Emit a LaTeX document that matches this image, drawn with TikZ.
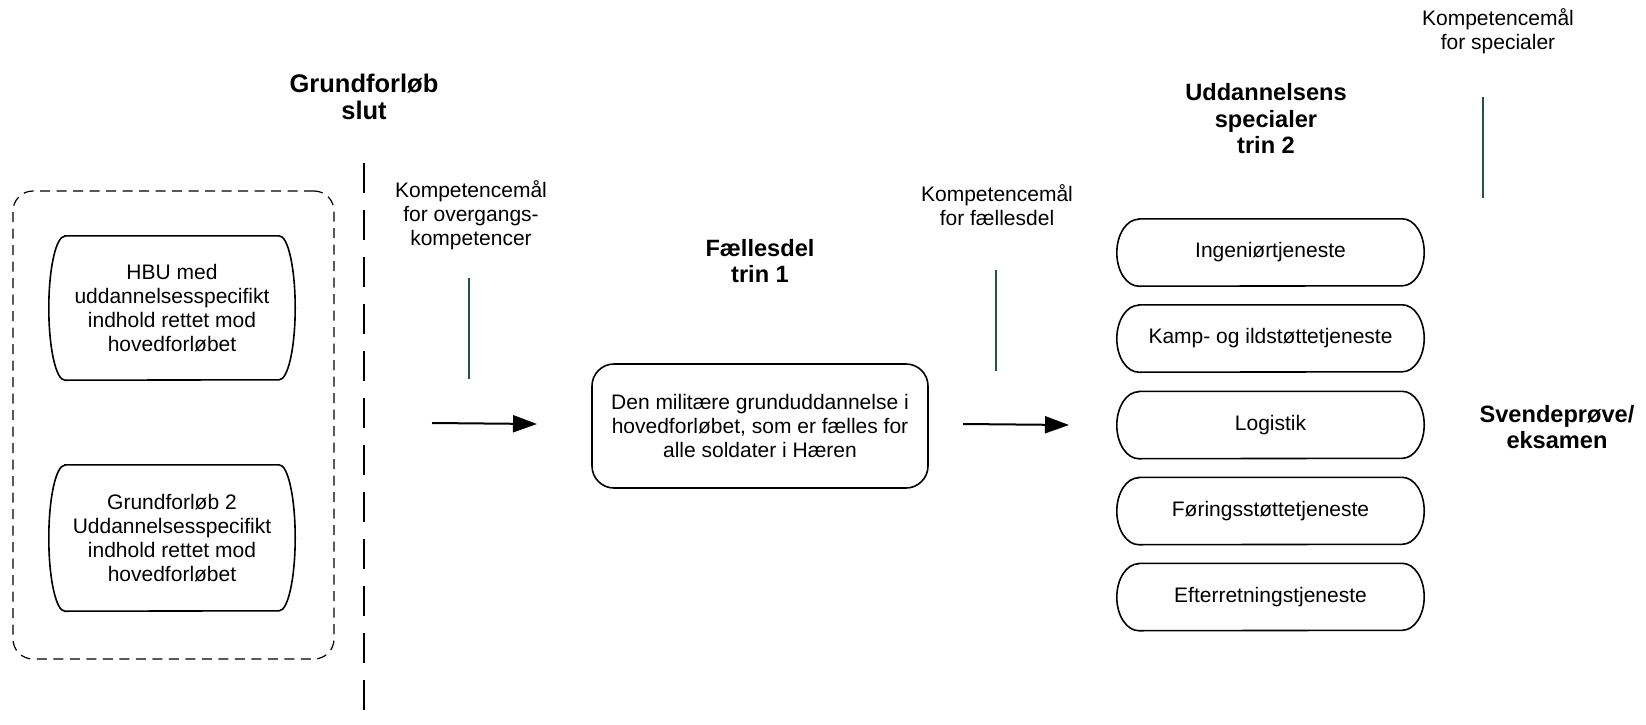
\documentclass[tikz,border=0pt]{standalone}
\usepackage{fontspec}
\setmainfont{Liberation Sans}
\usetikzlibrary{arrows.meta}
\definecolor{kgreen}{RGB}{31,90,58}
\tikzset{
  lbl/.style={align=center, inner sep=0pt, font=\fontsize{21pt}{24pt}\selectfont},
  ttl/.style={align=center, inner sep=0pt, font=\fontsize{23.6pt}{26.5pt}\selectfont\bfseries},
  boxtext/.style={align=center, inner sep=0pt, font=\fontsize{21pt}{24pt}\selectfont},
  boxline/.style={draw=black, line width=1.6pt},
  greenline/.style={draw=kgreen, line width=1.5pt},
  flow/.style={draw=black, line width=2pt, -{Triangle[length=24pt,width=17pt]}},
}
\newcommand\capnode[6]{%
  \node[boxtext, minimum width=#3, minimum height=#4] (#1) at (#2) {#6};
  \draw[boxline] ([xshift=#5]#1.north west) -- ([xshift=-#5]#1.north east)
    arc[start angle=90, end angle=-90, x radius=#5, y radius=#4/2]
    -- ([xshift=#5]#1.south west)
    arc[start angle=270, end angle=90, x radius=#5, y radius=#4/2] -- cycle;}
\begin{document}
\begin{tikzpicture}[x=1pt, y=-1pt]
\useasboundingbox (0,0) rectangle (1646,725);

% left group
\node[draw=black, line width=1.2pt, dash pattern=on 10pt off 6.5pt, rounded corners=20pt,
      minimum width=321pt, minimum height=468pt, inner sep=0pt] (grp) at (173.5,425) {};
\capnode{hbu}{172,308}{246pt}{144pt}{16pt}{HBU med\\uddannelsesspecifikt\\indhold rettet mod\\hovedforløbet}
\capnode{gf2}{172,538}{246pt}{146pt}{16pt}{Grundforløb 2\\Uddannelsesspecifikt\\indhold rettet mod\\hovedforløbet}

% Grundforløb slut
\node[ttl, font=\fontsize{25.5pt}{26.5pt}\selectfont\bfseries] (gslut) at (364,97) {Grundforløb\\slut};
\coordinate (d1) at (364,163);
\coordinate (d2) at (364,725);
\draw[black, line width=2pt, dash pattern=on 30pt off 17pt] (d1) -- (d2);

% first transition
\node[lbl] (kov) at (471,215) {Kompetencemål\\for overgangs-\\kompetencer};
\coordinate (g1a) at (469,278);
\coordinate (g1b) at (469,379);
\draw[greenline] (g1a) -- (g1b);
\coordinate (a1s) at (432,423);
\coordinate (a1e) at (537,424);
\draw[flow] (a1s) -- (a1e);

% Fællesdel
\node[ttl] (fd) at (760,261) {Fællesdel\\trin 1};
\node[boxtext, boxline, rounded corners=22pt, minimum width=336pt, minimum height=124pt] (main) at (760,426)
  {Den militære grunduddannelse i\\hovedforløbet, som er fælles for\\alle soldater i Hæren};

% second transition
\node[lbl] (kf) at (997,205) {Kompetencemål\\for fællesdel};
\coordinate (g2a) at (996,270);
\coordinate (g2b) at (996,371);
\draw[greenline] (g2a) -- (g2b);
\coordinate (a2s) at (963,424);
\coordinate (a2e) at (1069,425);
\draw[flow] (a2s) -- (a2e);

% specialer
\node[ttl] (us) at (1266,119) {Uddannelsens\\specialer\\trin 2};
\capnode{s1}{1270.5,252.5}{307pt}{67pt}{22pt}{Ingeniørtjeneste}
\capnode{s2}{1270.5,338.5}{307pt}{67pt}{22pt}{Kamp- og ildstøttetjeneste}
\capnode{s3}{1270.5,425}{307pt}{67pt}{22pt}{Logistik}
\capnode{s4}{1270.5,511}{307pt}{67pt}{22pt}{Føringsstøttetjeneste}
\capnode{s5}{1270.5,597}{307pt}{67pt}{22pt}{Efterretningstjeneste}

% specialer competence
\node[lbl] (ksp) at (1498,31) {Kompetencemål\\for specialer};
\coordinate (g3a) at (1483,97);
\coordinate (g3b) at (1483,198);
\draw[greenline] (g3a) -- (g3b);

% exam
\node[ttl] (sv) at (1557,427) {Svendeprøve/\\eksamen};
\end{tikzpicture}
\end{document}
